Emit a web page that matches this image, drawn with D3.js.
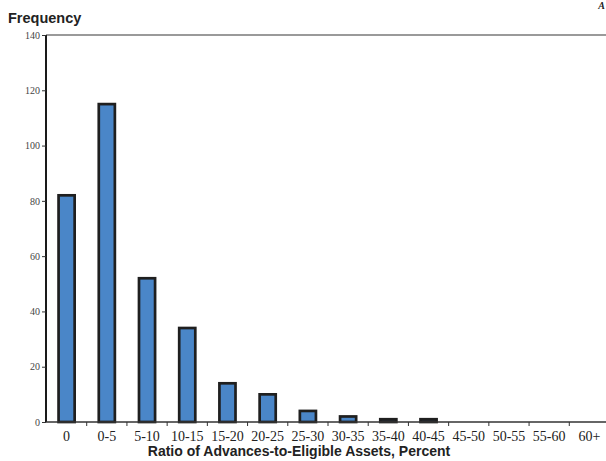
<!DOCTYPE html>
<html><head><meta charset="utf-8">
<script src="https://cdn.jsdelivr.net/npm/d3@7"></script>
<style>body{margin:0;background:#fff}svg{display:block}</style>
</head><body>
<svg id="c" width="606" height="461"></svg>
<script>
const categories = ["0","0-5","5-10","10-15","15-20","20-25","25-30","30-35","35-40","40-45","45-50","50-55","55-60","60+"];
const frequency = [82,115,52,34,14,10,4,2,1,1,0,0,0,0];
const yTicks = [0,20,40,60,80,100,120,140];

const svg = d3.select("#c");
const x = d3.scaleBand().domain(categories).range([46.5, 609.5]).paddingInner(0.6).paddingOuter(0.3);
const xb = d3.scaleBand().domain(categories).range([46.5, 609.5]);
const y = d3.scaleLinear().domain([0,140]).range([422, 35]);

// top border line
svg.append("line").attr("x1",46).attr("x2",606).attr("y1",y(140)).attr("y2",y(140))
  .attr("stroke","#9a9a9a").attr("stroke-width",2);

// bars
svg.append("g").selectAll("rect").data(categories.map((c,i)=>({c,v:frequency[i]})).filter(d=>d.v>0))
  .join("rect")
  .attr("x", d=>x(d.c)).attr("width", x.bandwidth())
  .attr("y", d=>y(d.v)).attr("height", d=>y(0)-y(d.v))
  .attr("fill","#4a86c8").attr("stroke","#1f1f1f").attr("stroke-width",2.7);

// y axis
const ya = svg.append("g").attr("transform","translate(46,0)")
  .call(d3.axisLeft(y).tickValues(yTicks).tickSize(4).tickPadding(2));
ya.select(".domain").attr("stroke","#1a1a1a").attr("stroke-width",2).attr("d","M0,"+y(140)+"V"+y(0));
ya.selectAll(".tick line").attr("stroke","#333");
ya.selectAll(".tick text").attr("font-family","Liberation Serif").attr("font-size",10).attr("fill","#444");

// x axis
const xa = svg.append("g").attr("transform","translate(0,422)");
xa.append("line").attr("x1",46).attr("x2",606).attr("stroke","#333").attr("stroke-width",1.6);
xa.selectAll("line.t").data(categories.slice(1)).join("line").attr("class","t")
  .attr("x1",d=>xb(d)).attr("x2",d=>xb(d)).attr("y1",0).attr("y2",4).attr("stroke","#333").attr("stroke-width",1);
xa.selectAll("text").data(categories).join("text")
  .attr("x",d=>xb(d)+xb.bandwidth()/2).attr("y",19).attr("text-anchor","middle")
  .attr("font-family","Liberation Serif").attr("font-size",14).attr("fill","#222").text(d=>d);

// titles
svg.append("text").attr("x",8).attr("y",23).attr("font-family","Liberation Sans").attr("font-weight","bold")
  .attr("font-size",14.5).attr("fill","#222").text("Frequency");
svg.append("text").attr("x",299).attr("y",456).attr("text-anchor","middle").attr("font-family","Liberation Sans")
  .attr("font-weight","bold").attr("font-size",14).attr("fill","#222").text("Ratio of Advances-to-Eligible Assets, Percent");
svg.append("text").attr("x",605).attr("y",9).attr("text-anchor","end").attr("font-family","Liberation Serif").attr("font-style","italic")
  .attr("font-weight","bold").attr("font-size",10).attr("fill","#222").text("A");
</script>
</body></html>
